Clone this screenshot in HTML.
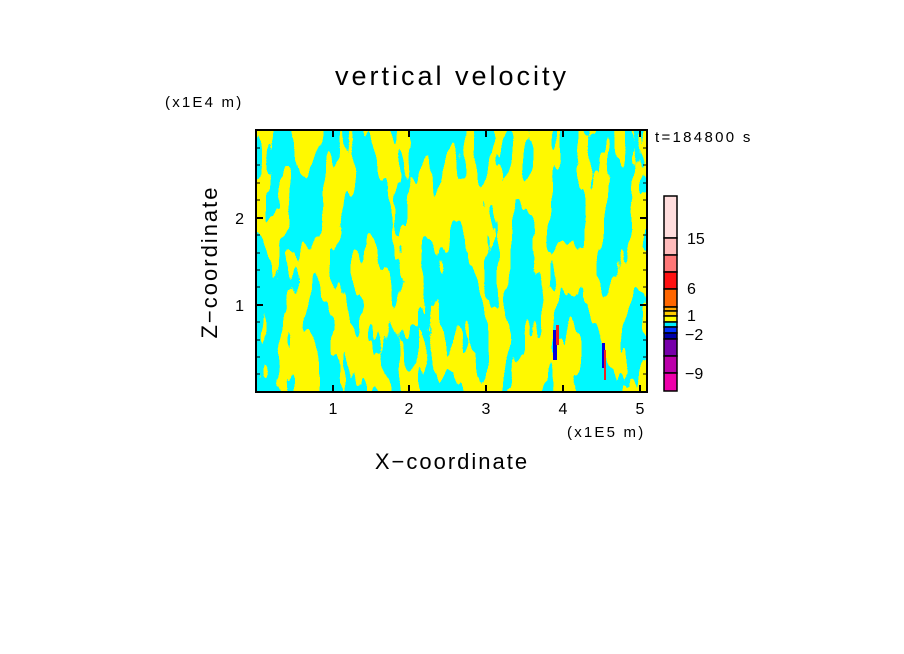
<!DOCTYPE html>
<html><head><meta charset="utf-8"><style>
html,body{margin:0;padding:0;background:#fff;}
svg{display:block;font-family:"Liberation Sans","DejaVu Sans",sans-serif;}
</style></head><body>
<svg width="904" height="654" viewBox="0 0 904 654" xmlns="http://www.w3.org/2000/svg">
<defs>
<filter id="f" x="0" y="0" width="100%" height="100%" filterUnits="objectBoundingBox">
<feTurbulence type="fractalNoise" baseFrequency="0.045 0.012" numOctaves="3" seed="7" result="n"/>
<feComponentTransfer in="n" result="t"><feFuncR type="discrete" tableValues="0 1"/></feComponentTransfer>
<feColorMatrix in="t" type="matrix" values="1 0 0 0 0  0 0 0 0 0.95  -1 0 0 0 1  0 0 0 0 1"/>
</filter>
<clipPath id="c"><rect x="256" y="130" width="391" height="262"/></clipPath>
</defs>
<text x="452" y="85" text-anchor="middle" font-size="27" letter-spacing="3">vertical velocity</text>
<text x="165" y="107" font-size="15" letter-spacing="2.2">(x1E4 m)</text>
<text x="655" y="142" font-size="15" letter-spacing="2.3">t=184800 s</text>
<g clip-path="url(#c)">
<rect x="256" y="130" width="391" height="262" fill="#00eeff"/>
<rect x="256" y="130" width="391" height="262" filter="url(#f)"/>
<rect x="553" y="330" width="4" height="30" fill="#0000dd"/>
<rect x="556" y="325" width="3" height="20" fill="#ee2222"/>
<rect x="602" y="343" width="3" height="25" fill="#0000dd"/>
<rect x="604" y="350" width="2" height="30" fill="#ee2222"/>
</g>
<rect x="256" y="130" width="391" height="262" fill="none" stroke="#000" stroke-width="2"/>
<g stroke="#000" stroke-width="2">
<line x1="333" y1="392" x2="333" y2="385"/><line x1="409" y1="392" x2="409" y2="385"/><line x1="486" y1="392" x2="486" y2="385"/><line x1="563" y1="392" x2="563" y2="385"/><line x1="640" y1="392" x2="640" y2="385"/>
<line x1="333" y1="130" x2="333" y2="137"/><line x1="409" y1="130" x2="409" y2="137"/><line x1="486" y1="130" x2="486" y2="137"/><line x1="563" y1="130" x2="563" y2="137"/><line x1="640" y1="130" x2="640" y2="137"/>
<line x1="256" y1="218" x2="263" y2="218"/><line x1="256" y1="305" x2="263" y2="305"/>
<line x1="647" y1="218" x2="640" y2="218"/><line x1="647" y1="305" x2="640" y2="305"/>
</g>
<g stroke="#000" stroke-width="1">
<path d="M256 148h4M256 165h4M256 183h4M256 200h4M256 235h4M256 253h4M256 270h4M256 287h4M256 322h4M256 340h4M256 357h4M256 374h4"/>
<path d="M647 148h-4M647 165h-4M647 183h-4M647 200h-4M647 235h-4M647 253h-4M647 270h-4M647 287h-4M647 322h-4M647 340h-4M647 357h-4M647 374h-4"/>
</g>
<g font-size="16" text-anchor="middle">
<text x="333" y="414">1</text><text x="409" y="414">2</text><text x="486" y="414">3</text><text x="563" y="414">4</text><text x="640" y="414">5</text>
</g>
<g font-size="16" text-anchor="end">
<text x="244" y="224">2</text><text x="244" y="311">1</text>
</g>
<text x="567" y="437" font-size="15" letter-spacing="2.2">(x1E5 m)</text>
<text x="452" y="469" text-anchor="middle" font-size="22" letter-spacing="2">X−coordinate</text>
<text transform="translate(217,262) rotate(-90)" text-anchor="middle" font-size="22" letter-spacing="2">Z−coordinate</text>
<g stroke="#000" stroke-width="1.5">
<rect x="664" y="196" width="13" height="42" fill="#ffdddd"/>
<rect x="664" y="238" width="13" height="17" fill="#ffbbbb"/>
<rect x="664" y="255" width="13" height="17" fill="#ff7777"/>
<rect x="664" y="272" width="13" height="17" fill="#ff1111"/>
<rect x="664" y="289" width="13" height="18" fill="#ff6600"/>
<rect x="664" y="307" width="13" height="4" fill="#ffaa00"/>
<rect x="664" y="311" width="13" height="5" fill="#ffcc00"/>
<rect x="664" y="316" width="13" height="6" fill="#ffff00"/>
<rect x="664" y="322" width="13" height="5" fill="#00eeff"/>
<rect x="664" y="327" width="13" height="6" fill="#0033ff"/>
<rect x="664" y="333" width="13" height="6" fill="#0000aa"/>
<rect x="664" y="339" width="13" height="17" fill="#7700aa"/>
<rect x="664" y="356" width="13" height="17" fill="#bb00aa"/>
<rect x="664" y="373" width="13" height="18" fill="#ee00aa"/>
</g>
<g font-size="16">
<text x="687" y="244">15</text><text x="687" y="294">6</text><text x="687" y="321">1</text><text x="685" y="340">−2</text><text x="685" y="379">−9</text>
</g>
</svg>
</body></html>
